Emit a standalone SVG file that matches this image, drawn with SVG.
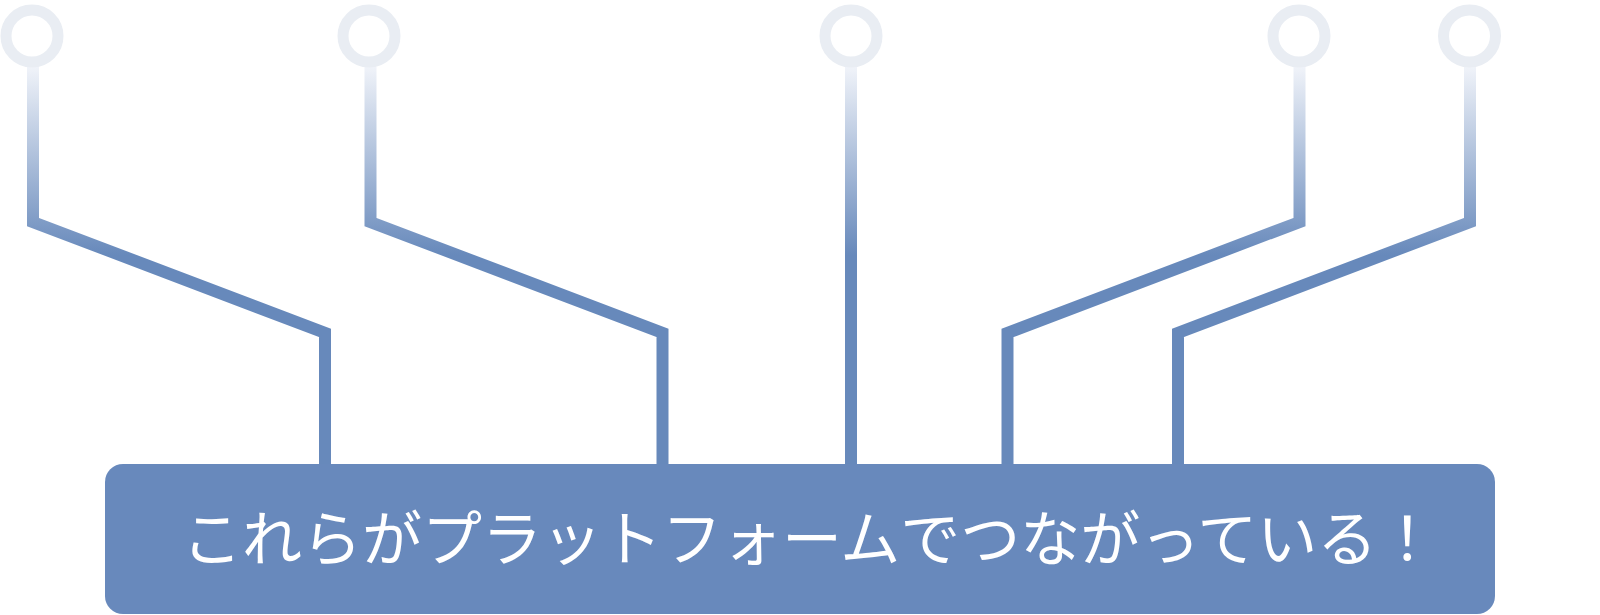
<svg xmlns="http://www.w3.org/2000/svg" width="1600" height="615" viewBox="0 0 1600 615">
  <defs>
    <linearGradient id="wireGrad" gradientUnits="userSpaceOnUse" x1="0" y1="67" x2="0" y2="255">
      <stop offset="0" stop-color="#f0f3f9"/>
      <stop offset="1" stop-color="#6789bb"/>
    </linearGradient>
  </defs>
  <style>
    .wire { fill: none; stroke: url(#wireGrad); stroke-width: 12; stroke-linejoin: miter; stroke-miterlimit: 10; }
    .pin { fill: none; stroke: #e9edf3; stroke-width: 11; }
    .box { fill: #6889bc; }
    .label { fill: #ffffff; font-family: "Noto Sans CJK JP", "Noto Sans", sans-serif; font-size: 60px; font-weight: 400; }
  </style>
  <g id="connectors">
    <polyline class="wire" points="33,67 33,222 325,333 325,466"/>
    <polyline class="wire" points="370.5,67 370.5,222 662.5,333 662.5,466"/>
    <polyline class="wire" points="851,67 851,466"/>
    <polyline class="wire" points="1299.5,67 1299.5,222 1007.5,333 1007.5,466"/>
    <polyline class="wire" points="1470,67 1470,222 1178,333 1178,466"/>
  </g>
  <g id="pin1"><circle class="pin" cx="32" cy="36" r="26"/></g>
  <g id="pin2"><circle class="pin" cx="369" cy="36" r="26"/></g>
  <g id="pin3"><circle class="pin" cx="851" cy="36" r="26"/></g>
  <g id="pin4"><circle class="pin" cx="1299" cy="36" r="26"/></g>
  <g id="pin5"><circle class="pin" cx="1469.5" cy="36" r="26"/></g>
  <g id="platform">
    <rect class="box" x="105" y="464" width="1390" height="150" rx="18" ry="18"/>
    <text class="label" x="182" y="561">これらがプラットフォームでつながっている！</text>
  </g>
</svg>
